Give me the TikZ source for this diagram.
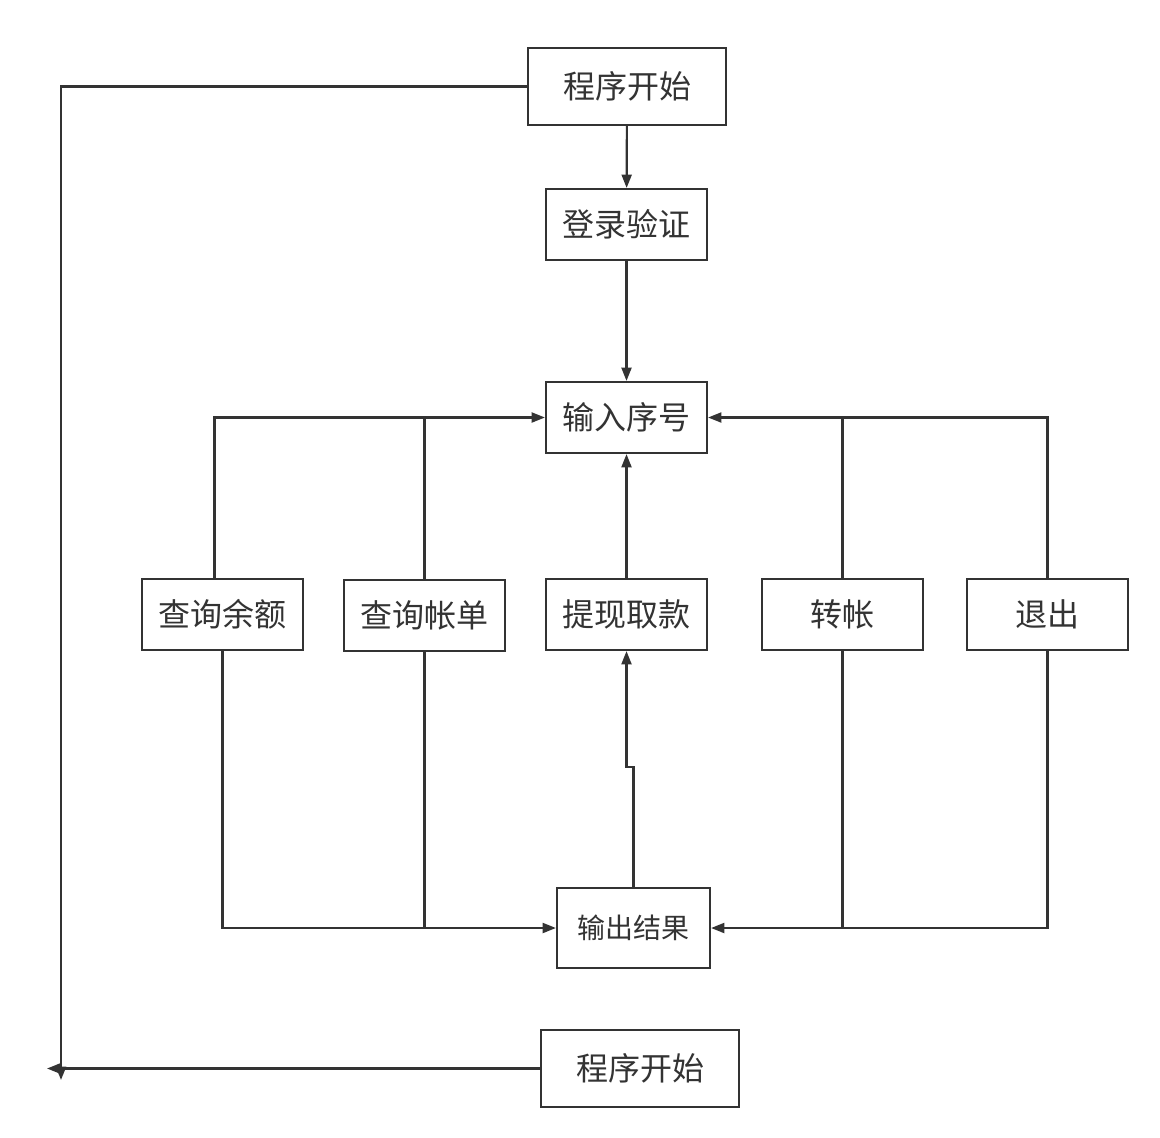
\documentclass[tikz,border=0pt]{standalone}
\usepackage{fontspec}
\setmainfont{Noto Sans CJK SC}
\usetikzlibrary{arrows.meta}
\definecolor{linegray}{HTML}{333333}
\tikzset{
	box/.style={draw=linegray, line width=1.6pt, text=linegray, inner sep=0pt,
		minimum width=120.75pt, minimum height=53.25pt, font=\fontsize{24pt}{26pt}\selectfont},
	bigbox/.style={box, minimum width=148.5pt, minimum height=57.75pt},
	line/.style={draw=linegray, line width=1.6pt},
	arr/.style={line, -{Triangle[length=10pt,width=7.5pt]}}
}
\begin{document}
\begin{tikzpicture}[x=0.75pt,y=-0.75pt]
		\useasboundingbox (0,0) rectangle (1160,1138);
		%main column
		\node[bigbox] (start) at (627,86.5) {程序开始};
		\node[box] (login) at (626.5,224.5) {登录验证};
		\node[box] (input) at (626.5,417.5) {输入序号};
		%menu row
		\node[box] (balance) at (222.5,614.5) {查询余额};
		\node[box] (bill) at (424.5,615.5) {查询帐单};
		\node[box] (withdraw) at (626.5,614.5) {提现取款};
		\node[box] (transfer) at (842.5,614.5) {转帐};
		\node[box] (quit) at (1047.5,614.5) {退出};
		%result and end
		\node[box, minimum width=114.75pt, minimum height=60pt, font=\fontsize{21pt}{23pt}\selectfont] (output) at (633.5,928) {输出结果};
		\node[bigbox] (finish) at (640,1068.5) {程序开始};
		\coordinate (loopend) at (61,1080);
		\coordinate (lefttip) at (47,1068.5);
		%down the column
		\draw[arr] (start) -- (login);
		\draw[arr] (login) -- (input);
		%back to input
		\draw[arr] ([xshift=-6pt]balance.north) |- (input.west);
		\draw[line] (bill.north) -- (bill.north |- input.west);
		\draw[arr] (withdraw) -- (input);
		\draw[line] (transfer.north) -- (transfer.north |- input.east);
		\draw[arr] (quit.north) |- (input.east);
		%down to output
		\draw[arr] (balance.south) |- (output.west);
		\draw[line] (bill.south) -- (bill.south |- output.west);
		\draw[line] (transfer.south) -- (transfer.south |- output.east);
		\draw[arr] (quit.south) |- (output.east);
		\draw[arr] (output.north) -- ++(0,-120) -| (withdraw.south);
		%outer loop
		\draw[arr] (start.west) -| (loopend);
		\draw[arr] (finish.west) -- (lefttip);
	\end{tikzpicture}
\end{document}
